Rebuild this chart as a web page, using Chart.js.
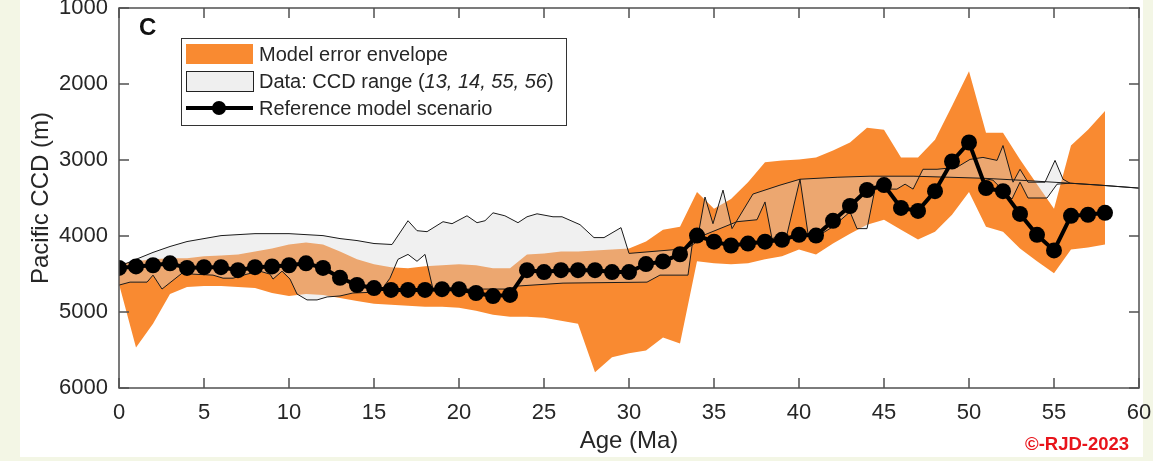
<!DOCTYPE html>
<html lang="en">
  <head>
    <meta charset="UTF-8" />
    <title>Pacific CCD</title>
    <script src="https://cdn.jsdelivr.net/npm/chart.js"></script>
    <style>
      html, body {
        margin: 0;
        padding: 0;
        width: 1153px;
        height: 461px;
        overflow: hidden;
        background: #f3f6e5;
      }
      .panel {
        position: absolute;
        left: 20px;
        top: 0;
        width: 1123px;
        height: 457px;
        background: #ffffff;
      }
      #ccdChart {
        position: absolute;
        left: 0;
        top: 0;
      }
      .credit {
        position: absolute;
        left: 1025px;
        top: 434px;
        font: bold 18.5px "Liberation Sans", Arial, sans-serif;
        line-height: 19px;
        color: #e8141b;
      }
    </style>
  </head>
  <body>
    <div class="panel"></div>
    <canvas id="ccdChart" width="1153" height="461"></canvas>
    <div class="credit">©-RJD-2023</div>

    <script>
      // Age axis (Ma) for the model runs
      const modelAge = [0, 1, 2, 3, 4, 5, 6, 7, 8, 9, 10, 11, 12, 13, 14, 15, 16, 17, 18, 19,
        20, 21, 22, 23, 24, 25, 26, 27, 28, 29, 30, 31, 32, 33, 34, 35, 36, 37, 38, 39,
        40, 41, 42, 43, 44, 45, 46, 47, 48, 49, 50, 51, 52, 53, 54, 55, 56, 57, 58];

      // Reference model scenario, CCD depth (m)
      const refDepth = [4420, 4400, 4385, 4360, 4420, 4410, 4410, 4450, 4410, 4400,
        4385, 4360, 4420, 4550, 4645, 4685, 4710, 4710, 4710, 4700,
        4700, 4750, 4790, 4775, 4450, 4475, 4450, 4450, 4450, 4475,
        4475, 4370, 4335, 4240, 3995, 4075, 4125, 4100, 4075, 4050,
        3985, 3995, 3800, 3605, 3395, 3330, 3630, 3670, 3410, 3020,
        2770, 3370, 3410, 3710, 3985, 4190, 3735, 3720, 3695];

      // Model error envelope, shallow and deep edges (m)
      const envShallow = [4372, 4333, 4307, 4294, 4294, 4268, 4255, 4242, 4203, 4164,
        4112, 4086, 4112, 4203, 4307, 4372, 4411, 4424, 4398, 4385,
        4372, 4385, 4424, 4424, 4242, 4229, 4203, 4203, 4190, 4177,
        4164, 4073, 3917, 3878, 3422, 3643, 3513, 3292, 3031, 3005,
        2992, 2966, 2875, 2771, 2576, 2602, 2966, 2966, 2732, 2289,
        1833, 2641, 2641, 2992, 3318, 3643, 2810, 2602, 2354];
      const envDeep = [4633, 5466, 5154, 4763, 4672, 4659, 4659, 4672, 4685, 4750,
        4789, 4763, 4776, 4815, 4854, 4893, 4906, 4919, 4932, 4932,
        4945, 4984, 5036, 5062, 5062, 5075, 5115, 5154, 5792, 5596,
        5544, 5505, 5336, 5414, 4333, 4359, 4372, 4359, 4307, 4268,
        4177, 4242, 4099, 3969, 3852, 3786, 3917, 4047, 3943, 3721,
        3422, 3878, 3943, 4164, 4333, 4490, 4177, 4151, 4112];

      // Data: CCD range, first bounding line
      const rangeAgeA = [0, 1, 2, 3, 4, 5, 6, 7, 8, 9, 10, 11, 12, 13, 14, 15,
        16.06, 17, 17.53, 18.12, 19.06, 19.59, 20.47, 21.06, 21.53, 22,
        22.7, 23.47, 24, 24.59, 25.53, 26.06, 27.12, 27.94, 28.53, 29.53,
        30, 32.82, 33.59, 34, 34.47, 34.94, 35.53, 36.06, 37.29, 38.88,
        40.06, 42.24, 44.18, 46.71, 48.88, 50.82, 53, 55.94, 57.7, 60];
      const rangeDepthA = [4400, 4307, 4216, 4138, 4073, 4034, 3995, 3982, 3969, 3969, 3969, 3982, 3995, 4034, 4060, 4099,
        4112, 3799, 3930, 3943, 3812, 3838, 3734, 3825, 3799, 3695,
        3734, 3825, 3747, 3708, 3747, 3747, 3851, 4021, 4021, 3890,
        4229, 4177, 4138, 4073, 3487, 3838, 3396, 3903, 3448, 3331,
        3253, 3227, 3213, 3213, 3227, 3240, 3266, 3305, 3331, 3370];

      // Data: CCD range, second bounding line
      const rangeAgeB = [0, 0.65, 1.65, 2, 2.53, 3.71, 4.35, 5.53, 6.12, 6.71,
        7.53, 8.29, 8.88, 9.06, 9.59, 10.06, 10.47, 11.06, 11.65, 12.24,
        13, 13.76, 15.35, 15.94, 16.41, 17, 17.53, 18, 18.47, 23,
        23.41, 26.12, 31.06, 31.82, 33.47, 33.76, 36.35, 37.53, 38, 38.41,
        39.29, 40.06, 40.53, 41.06, 42, 43, 43.41, 44, 44.47, 45.76,
        46.24, 46.71, 47.29, 48.12, 49.29, 50.06, 50.82, 51.65, 52, 52.59,
        53, 53.47, 54.47, 55.06, 55.53, 55.94, 57.7, 60];
      const rangeDepthB = [4646, 4607, 4607, 4515, 4698, 4489, 4502, 4515, 4555, 4555,
        4502, 4463, 4502, 4567, 4463, 4567, 4763, 4841, 4841, 4802,
        4789, 4750, 4737, 4555, 4307, 4242, 4333, 4242, 4698, 4698,
        4659, 4620, 4607, 4515, 4515, 4047, 3812, 3786, 3552, 4034,
        3982, 3253, 3969, 4008, 3877, 3682, 3903, 3903, 3383, 3383,
        3318, 3383, 3122, 3122, 3096, 2992, 2966, 3005, 2810, 3292,
        3122, 3292, 3292, 3005, 3253, 3305, 3331, 3370];

      // Data: CCD range, third line (51-56 Ma)
      const rangeAgeC = [50.82, 51.41, 51.82, 52.53, 53, 53.47, 54.59, 55.18, 55.94];
      const rangeDepthC = [3240, 3266, 3357, 3513, 3292, 3500, 3500, 3318, 3305];

      const xTicks = [0, 5, 10, 15, 20, 25, 30, 35, 40, 45, 50, 55, 60];
      const yTicks = [1000, 2000, 3000, 4000, 5000, 6000];

      const ORANGE = "#f98a31";
      const RANGE_FILL = "rgba(215, 215, 215, 0.38)";
      const INK = "#262626";

      const pts = (xs, ys) => xs.map((v, i) => ({ x: v, y: ys[i] }));

      Chart.defaults.font.family = "'Liberation Sans', Arial, sans-serif";
      Chart.defaults.color = INK;

      // box, inward ticks, panel letter and legend (MATLAB look)
      const matlabFrame = {
        id: "matlabFrame",
        afterDraw(chart) {
          const { ctx, chartArea: a, scales } = chart;
          const x = scales.x, y = scales.y;
          ctx.save();
          ctx.strokeStyle = "#505050";
          ctx.lineWidth = 1.5;
          ctx.strokeRect(a.left, a.top, a.right - a.left, a.bottom - a.top);
          ctx.beginPath();
          xTicks.forEach((t) => {
            const px = x.getPixelForValue(t);
            ctx.moveTo(px, a.bottom);
            ctx.lineTo(px, a.bottom - 10);
            ctx.moveTo(px, a.top);
            ctx.lineTo(px, a.top + 10);
          });
          yTicks.forEach((t) => {
            const py = y.getPixelForValue(t);
            ctx.moveTo(a.left, py);
            ctx.lineTo(a.left + 10, py);
            ctx.moveTo(a.right, py);
            ctx.lineTo(a.right - 10, py);
          });
          ctx.stroke();

          // panel letter
          ctx.fillStyle = "#111";
          ctx.font = "bold 24px 'Liberation Sans', Arial, sans-serif";
          ctx.textBaseline = "alphabetic";
          ctx.fillText("C", 139, 35);

          // legend
          const lx = 181, ly = 38, lw = 385, lh = 87;
          ctx.fillStyle = "#fff";
          ctx.fillRect(lx, ly, lw, lh);
          ctx.strokeStyle = "#333";
          ctx.lineWidth = 1;
          ctx.strokeRect(lx + 0.5, ly + 0.5, lw, lh);

          ctx.fillStyle = ORANGE;
          ctx.fillRect(186, 44, 67, 20);

          ctx.fillStyle = "#efefef";
          ctx.fillRect(186, 71, 67, 20);
          ctx.strokeStyle = "#222";
          ctx.strokeRect(186.5, 71.5, 67, 20);

          ctx.strokeStyle = "#000";
          ctx.lineWidth = 4;
          ctx.beginPath();
          ctx.moveTo(186, 108);
          ctx.lineTo(253, 108);
          ctx.stroke();
          ctx.fillStyle = "#000";
          ctx.beginPath();
          ctx.arc(219, 108, 7, 0, Math.PI * 2);
          ctx.fill();

          const normal = "20px 'Liberation Sans', Arial, sans-serif";
          const italic = "italic 20px 'Liberation Sans', Arial, sans-serif";
          ctx.fillStyle = INK;
          ctx.textBaseline = "middle";
          ctx.font = normal;
          ctx.fillText("Model error envelope", 259, 55);
          let tx = 259;
          ctx.fillText("Data: CCD range (", tx, 82);
          tx += ctx.measureText("Data: CCD range (").width;
          ctx.font = italic;
          ctx.fillText("13, 14, 55, 56", tx, 82);
          tx += ctx.measureText("13, 14, 55, 56").width;
          ctx.font = normal;
          ctx.fillText(")", tx, 82);
          ctx.fillText("Reference model scenario", 259, 109);
          ctx.restore();
        },
      };

      const ctx = document.getElementById("ccdChart").getContext("2d");
      new Chart(ctx, {
        type: "line",
        data: {
          datasets: [
            {
              label: "Reference model scenario",
              data: pts(modelAge, refDepth),
              borderColor: "#000",
              borderWidth: 4,
              pointRadius: 8,
              pointBackgroundColor: "#000",
              pointBorderWidth: 0,
              fill: false,
              order: 0,
            },
            {
              label: "CCD range C",
              data: pts(rangeAgeC, rangeDepthC),
              borderColor: "#1a1a1a",
              borderWidth: 1,
              pointRadius: 0,
              backgroundColor: RANGE_FILL,
              fill: 3,
              order: 1,
            },
            {
              label: "CCD range B",
              data: pts(rangeAgeB, rangeDepthB),
              borderColor: "#1a1a1a",
              borderWidth: 1,
              pointRadius: 0,
              backgroundColor: RANGE_FILL,
              fill: 3,
              order: 2,
            },
            {
              label: "CCD range A",
              data: pts(rangeAgeA, rangeDepthA),
              borderColor: "#1a1a1a",
              borderWidth: 1,
              pointRadius: 0,
              fill: false,
              order: 3,
            },
            {
              label: "Envelope deep",
              data: pts(modelAge, envDeep),
              borderWidth: 0,
              pointRadius: 0,
              backgroundColor: ORANGE,
              fill: 5,
              order: 4,
            },
            {
              label: "Envelope shallow",
              data: pts(modelAge, envShallow),
              borderWidth: 0,
              pointRadius: 0,
              fill: false,
              order: 5,
            },
          ],
        },
        options: {
          responsive: false,
          animation: false,
          devicePixelRatio: 1,
          layout: { padding: { left: 0, top: 4, right: 14, bottom: 0 } },
          elements: { line: { tension: 0 } },
          plugins: {
            legend: { display: false },
            tooltip: { enabled: false },
            filler: { drawTime: "beforeDatasetsDraw" },
          },
          scales: {
            x: {
              type: "linear",
              min: 0,
              max: 60,
              afterBuildTicks: (s) => { s.ticks = xTicks.map((v) => ({ value: v })); },
              ticks: { font: { size: 22 }, color: INK, padding: 12, callback: (v) => String(v) },
              grid: { display: false, drawTicks: false },
              border: { display: false },
              title: {
                display: true,
                text: "Age (Ma)",
                font: { size: 24 },
                color: INK,
                padding: { top: 0, bottom: 5 },
              },
              afterFit: (s) => {
                s.height = 73;
                s.paddingLeft = 0;
                s.paddingRight = 0;
              },
            },
            y: {
              type: "linear",
              reverse: true,
              min: 1000,
              max: 6000,
              afterBuildTicks: (s) => { s.ticks = yTicks.map((v) => ({ value: v })); },
              ticks: { font: { size: 22 }, color: INK, padding: 11, callback: (v) => String(v) },
              grid: { display: false, drawTicks: false },
              border: { display: false },
              title: {
                display: true,
                text: "Pacific CCD (m)",
                font: { size: 24 },
                color: INK,
                padding: { top: 27, bottom: 0 },
              },
              afterFit: (s) => {
                s.width = 119;
                s.paddingTop = 0;
                s.paddingBottom = 0;
              },
            },
          },
        },
        plugins: [matlabFrame],
      });
    </script>
  </body>
</html>
